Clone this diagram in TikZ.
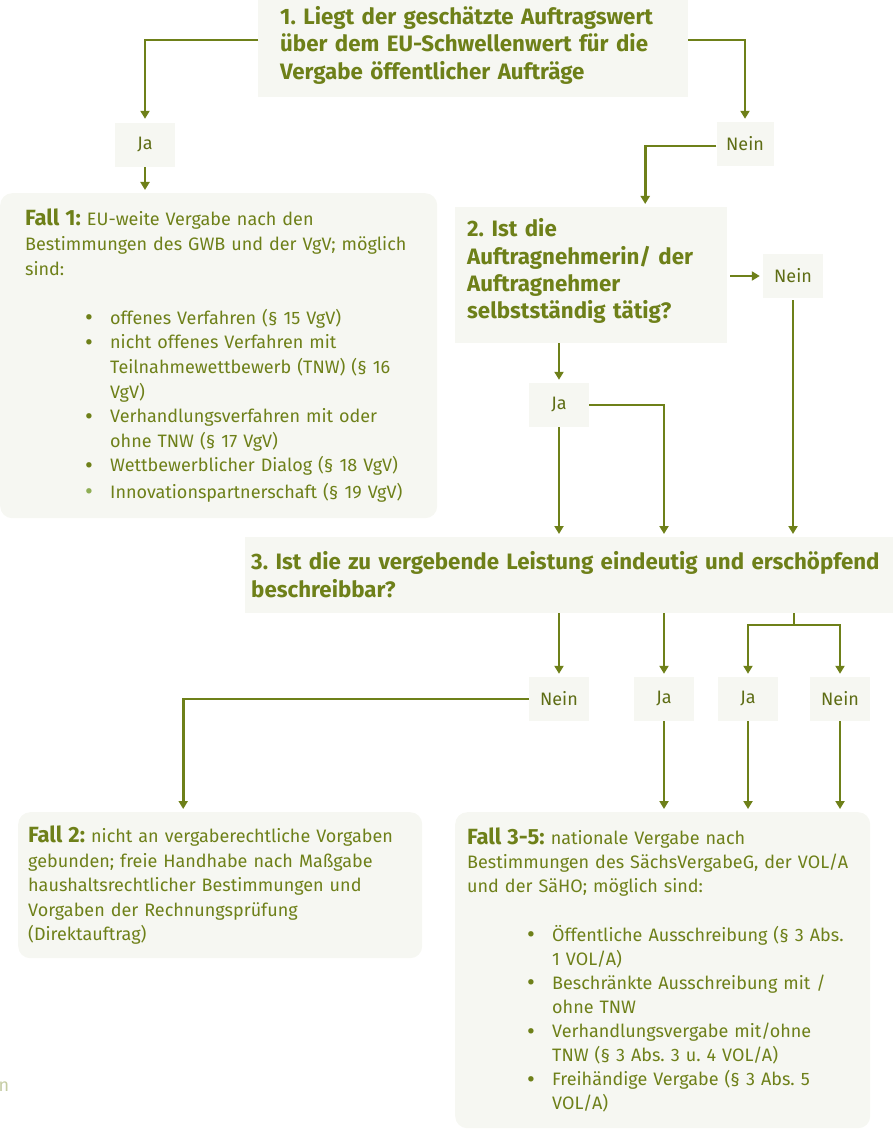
\documentclass[tikz,border=0pt]{standalone}
\usepackage{fontspec}
\setmainfont{Fira Sans}
\usepackage{tikz}
\usetikzlibrary{arrows.meta}
\definecolor{oliv}{HTML}{6E8019}
\definecolor{olivlight}{HTML}{8FAE55}
\definecolor{boxfill}{HTML}{F6F7F2}
\newcommand{\fallheadfont}{\bfseries\fontsize{22}{24}\selectfont}
\newcommand{\itm}[1]{\hspace*{60pt}\makebox[25pt][l]{\raisebox{-1.5pt}{\fontsize{24}{0}\selectfont\color{#1}\textbullet}}}
\newcommand{\cnt}{\hspace*{85pt}}
\frenchspacing

\begin{document}
\begin{tikzpicture}[x=1pt,y=-1pt,
    qbox/.style={fill=boxfill, anchor=north west, inner ysep=0pt, align=left, text=oliv,
      font=\bfseries\fontsize{22.3}{27.3}\selectfont},
    fallbox/.style={fill=boxfill, rounded corners=12pt, anchor=north west, inner ysep=0pt, align=left, text=oliv,
      font=\fontsize{18}{24.6}\selectfont},
    lbl/.style={fill=boxfill, minimum width=60pt, minimum height=44pt, text=oliv!85!black,
      font=\fontsize{18}{20}\selectfont},
    arr/.style={draw=oliv, line width=2.6pt, -{Triangle[width=9pt,length=8pt]}, shorten >=3pt},
    ln/.style={draw=oliv, line width=2.6pt}]
  \useasboundingbox (0,0) rectangle (893,1131);
  % Question boxes
  \node[qbox, inner xsep=22pt, text width=386pt, minimum height=97pt] (q1) at (258,0)
    {1. Liegt der geschätzte Auftragswert\\über dem EU-Schwellenwert für die\\Vergabe öffentlicher Aufträge\par\vspace*{7pt}};
  \node[qbox, inner xsep=12pt, text width=248pt, minimum height=136pt] (q2) at (455,207)
    {2. Ist die\\Auftragnehmerin/ der\\Auftragnehmer\\selbstständig tätig?\par\vspace*{8pt}};
  \node[qbox, inner xsep=6pt, text width=636pt, minimum height=76pt,
      font=\bfseries\fontsize{22.3}{28}\selectfont] (q3) at (245,537)
    {3. Ist die zu vergebende Leistung eindeutig und erschöpfend\\beschreibbar?\par\vspace*{2pt}};
  % Ja / Nein
  \node[lbl] (ja1) at (145,145) {Ja};
  \node[lbl, minimum width=57pt] (nein1) at (745,144) {Nein};
  \node[lbl] (nein2) at (793,276) {Nein};
  \node[lbl] (ja2) at (559,405) {Ja};
  \node[lbl] (nein3) at (559,699) {Nein};
  \node[lbl] (ja3) at (664,699) {Ja};
  \node[lbl] (ja4) at (748,699) {Ja};
  \node[lbl] (nein4) at (840,699) {Nein};
  % Cases
  \node[fallbox, inner xsep=25pt, text width=387pt, minimum height=325pt] (fall1) at (0,193)
    {{\fallheadfont Fall 1:} EU-weite Vergabe nach den\\
     Bestimmungen des GWB und der VgV; möglich\\
     sind:\\[24.6pt]
     \itm{oliv}offenes Verfahren (§ 15 VgV)\\
     \itm{oliv}nicht offenes Verfahren mit\\
     \cnt Teilnahmewettbewerb (TNW) (§ 16\\
     \cnt VgV)\\
     \itm{oliv}Verhandlungsverfahren mit oder\\
     \cnt ohne TNW (§ 17 VgV)\\
     \itm{oliv}Wettbewerblicher Dialog (§ 18 VgV)\\[2pt]
     \itm{olivlight}Innovationspartnerschaft (§ 19 VgV)};
  \node[fallbox, inner xsep=10pt, text width=384pt, minimum height=146pt] (fall2) at (18,812)
    {{\fallheadfont Fall 2:} nicht an vergaberechtliche Vorgaben\\
     gebunden; freie Handhabe nach Maßgabe\\
     haushaltsrechtlicher Bestimmungen und\\
     Vorgaben der Rechnungsprüfung\\
     (Direktauftrag)};
  \node[fallbox, inner xsep=12pt, text width=391pt, minimum height=316pt,
      font=\fontsize{18}{24.1}\selectfont] (fall35) at (455,812)
    {{\fallheadfont Fall 3-5:} nationale Vergabe nach\\
     Bestimmungen des SächsVergabeG, der VOL/A\\
     und der SäHO; möglich sind:\\[24.1pt]
     \itm{oliv}Öffentliche Ausschreibung (§ 3 Abs.\\
     \cnt 1 VOL/A)\\
     \itm{oliv}Beschränkte Ausschreibung mit /\\
     \cnt ohne TNW\\
     \itm{oliv}Verhandlungsvergabe mit/ohne\\
     \cnt TNW (§ 3 Abs. 3 u. 4 VOL/A)\\
     \itm{oliv}Freihändige Vergabe (§ 3 Abs. 5\\
     \cnt VOL/A)};
  \node[text=oliv!40, font=\fontsize{18}{20}\selectfont] (frag) at (4,1087) {n};
  % Connectors from question 1
  \draw[arr, shorten >=4pt] ([yshift=8.5pt]q1.west) -| (ja1.north);
  \draw[arr] (ja1.south) -- (ja1.south |- fall1.north);
  \draw[arr] ([yshift=8.5pt]q1.east) -| (nein1.north);
  \draw[arr] ([yshift=-2pt]nein1.west) -| ([xshift=54pt]q2.north);
  % Connectors from question 2
  \draw[arr, shorten <=3pt] (q2.east |- nein2.west) -- (nein2.west);
  \draw[arr, shorten <=2pt] (nein2.south) -- (nein2.south |- q3.north);
  \draw[arr] (ja2.north |- q2.south) -- (ja2.north);
  \draw[arr] (ja2.south) -- (ja2.south |- q3.north);
  \draw[arr] (ja2.east) -| (ja3.north |- q3.north);
  % Connectors from question 3
  \draw[arr] (nein3.north |- q3.south) -- (nein3.north);
  \draw[arr] (ja3.north |- q3.south) -- (ja3.north);
  \coordinate (fork) at (794,625);
  \draw[ln] (fork |- q3.south) -- (fork);
  \draw[arr] (fork) -| (ja4.north);
  \draw[arr] (fork) -| (nein4.north);
  % Connectors to the cases
  \draw[arr] (nein3.west) -| ([xshift=-37pt]fall2.north);
  \draw[arr] (ja3.south) -- (ja3.south |- fall35.north);
  \draw[arr] (ja4.south) -- (ja4.south |- fall35.north);
  \draw[arr] (nein4.south) -- (nein4.south |- fall35.north);
\end{tikzpicture}
\end{document}
